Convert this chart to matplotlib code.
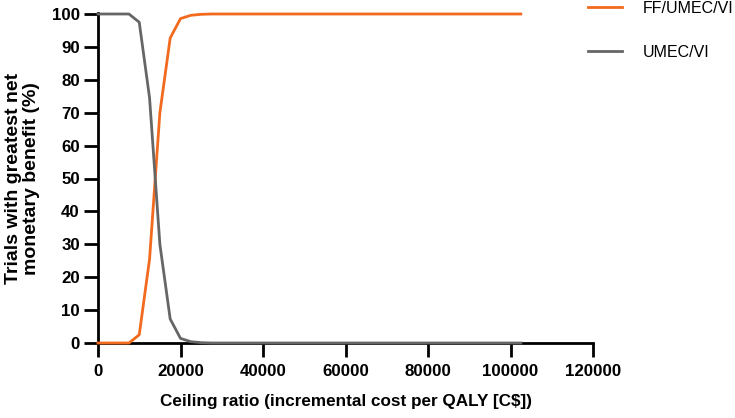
import numpy as np
import matplotlib.pyplot as plt

plt.rcParams['font.family'] = ['Liberation Sans', 'DejaVu Sans']

# ceiling ratio in C$, step 2500
ceiling = [0, 2500, 5000, 7500, 10000, 12500, 15000, 17500, 20000, 22500,
           25000, 27500, 30000, 32500, 35000, 37500, 40000, 42500, 45000, 47500,
           50000, 52500, 55000, 57500, 60000, 62500, 65000, 67500, 70000, 72500,
           75000, 77500, 80000, 82500, 85000, 87500, 90000, 92500, 95000, 97500,
           100000, 102500]
ff_umec_vi = [0, 0, 0, 0, 2.5, 25.5, 70.0, 92.7, 98.6, 99.6,
              99.9, 100, 100, 100, 100, 100, 100, 100, 100, 100,
              100, 100, 100, 100, 100, 100, 100, 100, 100, 100,
              100, 100, 100, 100, 100, 100, 100, 100, 100, 100,
              100, 100]
umec_vi = [100, 100, 100, 100, 97.5, 74.5, 30.0, 7.3, 1.4, 0.4,
           0.1, 0, 0, 0, 0, 0, 0, 0, 0, 0,
           0, 0, 0, 0, 0, 0, 0, 0, 0, 0,
           0, 0, 0, 0, 0, 0, 0, 0, 0, 0,
           0, 0]

W, H = 735, 418
fig = plt.figure(figsize=(W / 100, H / 100), dpi=100)
# axes box in pixels: x 98..593, y 14..343
ax = fig.add_axes([98 / W, 1 - 343 / H, 495 / W, 329 / H])

ax.plot(ceiling, ff_umec_vi, color='#f26a1e', lw=2.0, label='FF/UMEC/VI', zorder=3, clip_on=False)
ax.plot(ceiling, umec_vi, color='#666666', lw=2.0, label='UMEC/VI', zorder=3, clip_on=False)

ax.set_xlim(0, 120000)
ax.set_ylim(0, 100)
ax.spines['top'].set_visible(False)
ax.spines['right'].set_visible(False)
for s in ['left', 'bottom']:
    ax.spines[s].set_linewidth(2.0)
ax.spines['left'].set_bounds(0, 100.4)
ax.set_xticks(range(0, 120001, 20000))
ax.set_yticks(range(0, 101, 10))
ax.tick_params(width=2.0, length=10, labelsize=12.2, direction='out')
ax.tick_params(axis='x', pad=5)
ax.tick_params(axis='y', pad=3)
for lab in ax.get_xticklabels() + ax.get_yticklabels():
    lab.set_fontweight('bold')

ax.set_xlabel('Ceiling ratio (incremental cost per QALY [C$])', fontsize=12.3,
              fontweight='bold')
ax.xaxis.set_label_coords(0.5, -0.155)
ax.set_ylabel('Trials with greatest net\nmonetary benefit (%)', fontsize=14,
              fontweight='bold', linespacing=1.1)
ax.yaxis.set_label_coords(-0.117, 0.5)

leg = fig.legend(loc='upper left', bbox_to_anchor=(588 / W, 0.998), frameon=False,
                 fontsize=11.5, handlelength=2.1, handletextpad=1.3, labelspacing=1.8,
                 borderpad=0, borderaxespad=0)
for line in leg.get_lines():
    line.set_linewidth(2.0)

fig.savefig('out.png', dpi=100)
